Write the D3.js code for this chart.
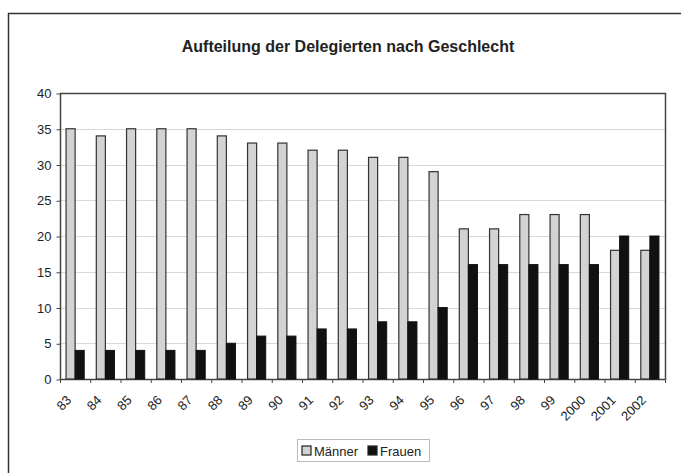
<!DOCTYPE html>
<html>
<head>
<meta charset="utf-8">
<script src="https://cdn.jsdelivr.net/npm/d3@7"></script>
<style>
body { margin: 0; background: #fff; }
text { font-family: "Liberation Sans", Arial, sans-serif; fill: #222; }
</style>
</head>
<body>
<div id="chart"></div>
<script>
var years = ["83","84","85","86","87","88","89","90","91","92","93","94","95","96","97","98","99","2000","2001","2002"];
var maenner = [35,34,35,35,35,34,33,33,32,32,31,31,29,21,21,23,23,23,18,18];
var frauen = [4,4,4,4,4,5,6,6,7,7,8,8,10,16,16,16,16,16,20,20];
var yTicks = [0,5,10,15,20,25,30,35,40];

var width = 681;
var height = 473;

var svg = d3.select('#chart')
    .append('svg')
    .attr('width', width)
    .attr('height', height);

// outer frame (runs off the right and bottom of the picture)
svg.append('rect')
    .attr('x', 8.5).attr('y', 13.5)
    .attr('width', 700).attr('height', 500)
    .style('fill', 'none')
    .style('stroke', '#333')
    .style('stroke-width', 1.5);

svg.append('text')
    .attr('x', 348)
    .attr('y', 52)
    .attr('text-anchor', 'middle')
    .style('font-size', '16px')
    .style('font-weight', 'bold')
    .text('Aufteilung der Delegierten nach Geschlecht');

var plotLeft = 60, plotTop = 93, plotRight = 665, plotBottom = 379;

var x = d3.scaleBand()
    .domain(years)
    .range([plotLeft, plotRight])
    .paddingInner(0.4)
    .paddingOuter(0.2);

var y = d3.scaleLinear()
    .domain([0, 40])
    .range([plotBottom, plotTop]);

// gridlines
svg.append('g')
    .selectAll('line')
    .data(yTicks.slice(1, -1))
    .enter()
    .append('line')
    .attr('x1', plotLeft).attr('x2', plotRight)
    .attr('y1', function(d) { return Math.round(y(d)) + 0.5; })
    .attr('y2', function(d) { return Math.round(y(d)) + 0.5; })
    .style('stroke', '#d8d8d8');

svg.append('rect')
    .attr('x', plotLeft + 0.5).attr('y', plotTop + 0.5)
    .attr('width', plotRight - plotLeft).attr('height', plotBottom - plotTop)
    .style('fill', 'none')
    .style('stroke', '#444')
    .style('stroke-width', 1.5);

var bw = x.bandwidth() / 2;

var g = svg.selectAll('.year')
    .data(years)
    .enter()
    .append('g')
    .attr('class', 'year');

g.append('rect')
    .attr('x', function(d) { return x(d); })
    .attr('y', function(d, i) { return y(maenner[i]); })
    .attr('width', bw)
    .attr('height', function(d, i) { return plotBottom - y(maenner[i]); })
    .style('fill', '#d3d3d3')
    .style('stroke', '#333')
    .style('stroke-width', 1.2);

g.append('rect')
    .attr('x', function(d) { return x(d) + bw; })
    .attr('y', function(d, i) { return y(frauen[i]); })
    .attr('width', bw)
    .attr('height', function(d, i) { return plotBottom - y(frauen[i]); })
    .style('fill', '#111')
    .style('stroke', '#111')
    .style('stroke-width', 1);

// y axis labels
var yAxis = d3.axisLeft(y).tickValues(yTicks).tickSize(4).tickPadding(5);
var ya = svg.append('g')
    .attr('transform', 'translate(' + (plotLeft + 0.5) + ',0.5)')
    .call(yAxis);
ya.select('.domain').remove();
ya.selectAll('line').style('stroke', '#444');
ya.selectAll('text').style('font-size', '13px').style('fill', '#222')
    .style('font-family', '"Liberation Sans", Arial, sans-serif');

// x axis: ticks between categories
svg.append('g')
    .selectAll('line')
    .data(d3.range(years.length + 1))
    .enter()
    .append('line')
    .attr('x1', function(i) { return plotLeft + i * (plotRight - plotLeft) / years.length + 0.5; })
    .attr('x2', function(i) { return plotLeft + i * (plotRight - plotLeft) / years.length + 0.5; })
    .attr('y1', plotBottom).attr('y2', plotBottom + 4)
    .style('stroke', '#444');

svg.append('g')
    .selectAll('text')
    .data(years)
    .enter()
    .append('text')
    .attr('transform', function(d) {
        return 'translate(' + (x(d) + bw - 3) + ',' + (plotBottom + 22) + ') rotate(-45)';
    })
    .attr('text-anchor', 'end')
    .style('font-size', '13px')
    .text(function(d) { return d; });

// legend
var legend = svg.append('g').attr('transform', 'translate(297,439)');
legend.append('rect')
    .attr('x', 0.5).attr('y', 0.5)
    .attr('width', 132).attr('height', 22)
    .style('fill', '#fff')
    .style('stroke', '#bbb');

var items = [{name: 'Männer', fill: '#d3d3d3'}, {name: 'Frauen', fill: '#111'}];
var li = legend.selectAll('.item')
    .data(items)
    .enter()
    .append('g')
    .attr('transform', function(d, i) { return 'translate(' + (5 + i * 66) + ',0)'; });

li.append('rect')
    .attr('x', 0).attr('y', 7)
    .attr('width', 9).attr('height', 9)
    .style('fill', function(d) { return d.fill; })
    .style('stroke', '#222')
    .style('stroke-width', 1.2);

li.append('text')
    .attr('x', 12).attr('y', 16.5)
    .style('font-size', '13px')
    .text(function(d) { return d.name; });
</script>
</body>
</html>
